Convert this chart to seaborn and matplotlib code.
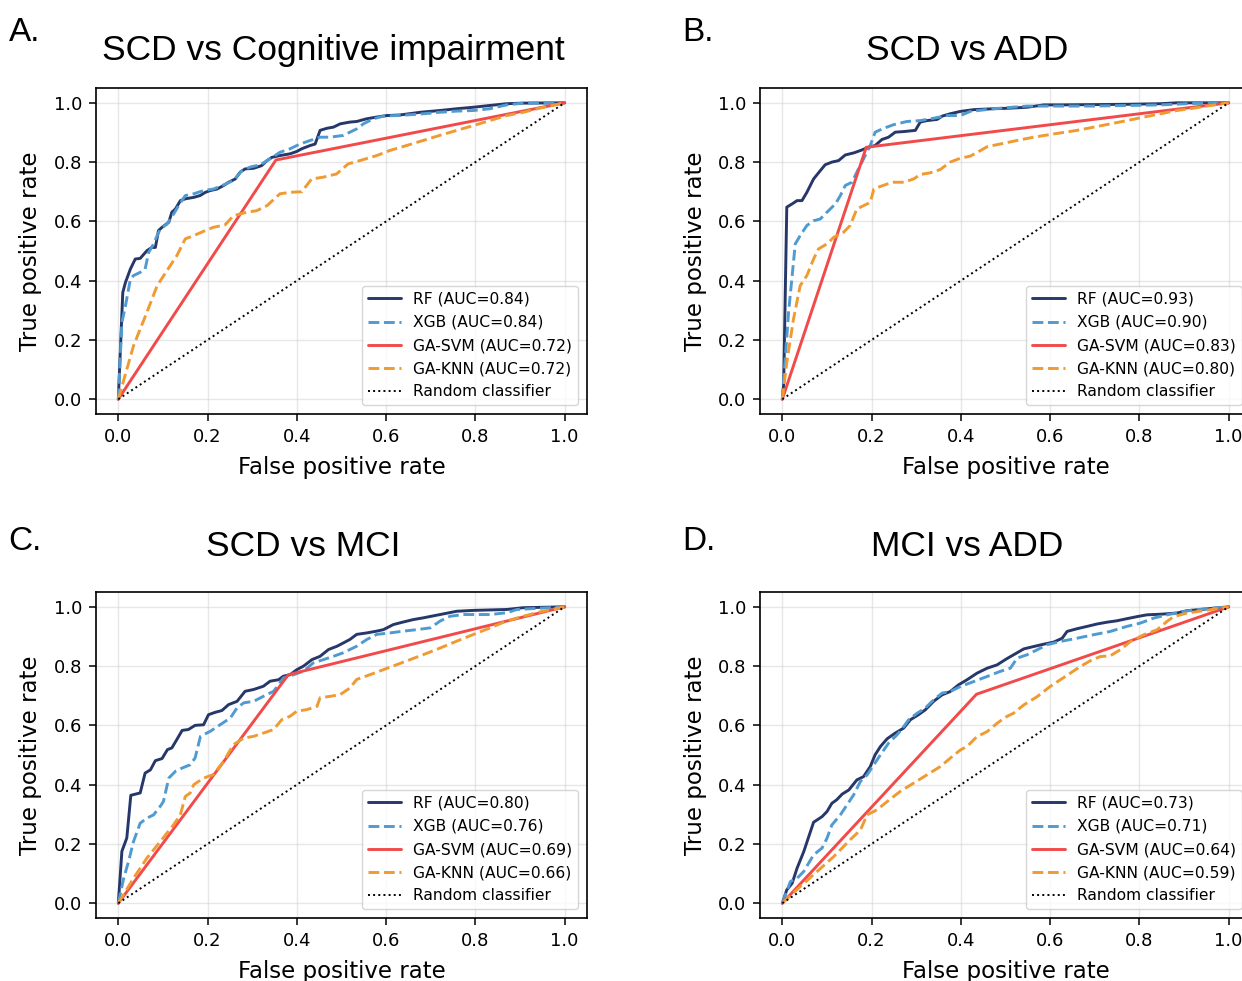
import matplotlib
matplotlib.use("Agg")
import matplotlib.pyplot as plt
import seaborn as sns
import pandas as pd

# ---------------- data ----------------
MODELS = ["RF", "XGB", "GA-SVM", "GA-KNN"]
PANEL_LABELS = ["A.", "B.", "C.", "D."]
TITLES = ["SCD vs Cognitive impairment", "SCD vs ADD", "SCD vs MCI", "MCI vs ADD"]
AUC_A = [0.84, 0.84, 0.72, 0.72]
AUC_B = [0.93, 0.90, 0.83, 0.80]
AUC_C = [0.80, 0.76, 0.69, 0.66]
AUC_D = [0.73, 0.71, 0.64, 0.59]
X_TICKS = [0.0, 0.2, 0.4, 0.6, 0.8, 1.0]
Y_TICKS = [0.0, 0.2, 0.4, 0.6, 0.8, 1.0]

# Panel A
A_RF_FPR = [0, 0.010, 0.016, 0.027, 0.038, 0.049, 0.064, 0.075, 0.083, 0.090, 0.098, 0.113, 0.120, 0.128, 0.139, 0.150, 0.169, 0.183, 0.195, 0.206, 0.221, 0.236, 0.247, 0.262, 0.273, 0.284, 0.303, 0.321, 0.333, 0.344, 0.362, 0.385, 0.400, 0.411, 0.430, 0.441, 0.452, 0.467, 0.482, 0.497, 0.519, 0.534, 0.556, 0.579, 0.601, 0.631, 0.676, 0.720, 0.758, 0.795, 0.832, 0.870, 0.907, 1.0]
A_RF_TPR = [0, 0.360, 0.394, 0.439, 0.473, 0.475, 0.501, 0.512, 0.512, 0.569, 0.580, 0.597, 0.631, 0.642, 0.670, 0.676, 0.681, 0.687, 0.698, 0.704, 0.709, 0.721, 0.732, 0.743, 0.766, 0.777, 0.779, 0.788, 0.805, 0.816, 0.822, 0.828, 0.836, 0.845, 0.856, 0.861, 0.907, 0.914, 0.918, 0.929, 0.935, 0.937, 0.946, 0.952, 0.957, 0.959, 0.968, 0.974, 0.980, 0.985, 0.991, 0.997, 0.999, 1.0]
A_XGB_FPR = [0, 0.008, 0.016, 0.027, 0.034, 0.049, 0.060, 0.068, 0.079, 0.087, 0.094, 0.109, 0.124, 0.135, 0.150, 0.169, 0.191, 0.213, 0.236, 0.258, 0.277, 0.295, 0.318, 0.340, 0.362, 0.385, 0.407, 0.430, 0.452, 0.474, 0.504, 0.534, 0.549, 0.571, 0.594, 0.646, 0.683, 0.720, 0.758, 0.795, 0.832, 0.870, 0.907, 1.0]
A_XGB_TPR = [0, 0.259, 0.315, 0.405, 0.417, 0.428, 0.439, 0.495, 0.524, 0.552, 0.574, 0.591, 0.625, 0.653, 0.687, 0.693, 0.704, 0.709, 0.723, 0.738, 0.771, 0.783, 0.791, 0.811, 0.833, 0.845, 0.861, 0.873, 0.884, 0.884, 0.890, 0.912, 0.929, 0.946, 0.955, 0.959, 0.963, 0.968, 0.972, 0.974, 0.980, 0.993, 0.999, 1.0]
A_SVM_FPR = [0, 0.353, 1.0]
A_SVM_TPR = [0, 0.807, 1.0]
A_KNN_FPR = [0, 0.034, 0.064, 0.087, 0.109, 0.131, 0.150, 0.169, 0.195, 0.213, 0.239, 0.258, 0.288, 0.310, 0.333, 0.362, 0.385, 0.411, 0.433, 0.459, 0.489, 0.515, 0.541, 0.579, 0.608, 0.646, 0.683, 0.720, 0.758, 0.795, 0.832, 0.870, 0.907, 0.944, 1.0]
A_KNN_TPR = [0, 0.180, 0.293, 0.383, 0.434, 0.484, 0.541, 0.552, 0.569, 0.580, 0.588, 0.619, 0.631, 0.636, 0.653, 0.693, 0.698, 0.700, 0.743, 0.749, 0.760, 0.794, 0.805, 0.822, 0.839, 0.856, 0.873, 0.890, 0.907, 0.923, 0.940, 0.957, 0.968, 0.982, 1.0]

# Panel B
B_RF_FPR = [0, 0.003, 0.010, 0.022, 0.033, 0.044, 0.055, 0.070, 0.085, 0.096, 0.111, 0.126, 0.141, 0.160, 0.175, 0.193, 0.208, 0.223, 0.238, 0.253, 0.272, 0.298, 0.309, 0.324, 0.347, 0.358, 0.376, 0.399, 0.429, 0.473, 0.511, 0.548, 0.586, 0.623, 0.698, 0.772, 0.847, 0.884, 1.0]
B_RF_TPR = [0, 0.050, 0.648, 0.659, 0.670, 0.670, 0.698, 0.743, 0.771, 0.791, 0.800, 0.805, 0.824, 0.831, 0.839, 0.850, 0.856, 0.876, 0.884, 0.901, 0.903, 0.907, 0.935, 0.940, 0.944, 0.955, 0.963, 0.971, 0.977, 0.980, 0.982, 0.985, 0.993, 0.993, 0.994, 0.995, 0.997, 1.0, 1.0]
B_XGB_FPR = [0, 0.014, 0.029, 0.040, 0.055, 0.070, 0.085, 0.100, 0.119, 0.130, 0.141, 0.156, 0.167, 0.182, 0.197, 0.208, 0.227, 0.249, 0.279, 0.309, 0.339, 0.369, 0.399, 0.421, 0.473, 0.548, 0.623, 0.698, 0.772, 0.847, 0.922, 1.0]
B_XGB_TPR = [0, 0.293, 0.524, 0.552, 0.586, 0.602, 0.608, 0.631, 0.659, 0.687, 0.721, 0.732, 0.766, 0.811, 0.856, 0.901, 0.914, 0.926, 0.937, 0.940, 0.948, 0.957, 0.957, 0.971, 0.980, 0.989, 0.989, 0.989, 0.991, 0.993, 0.998, 1.0]
B_SVM_FPR = [0, 0.188, 1.0]
B_SVM_TPR = [0, 0.850, 1.0]
B_KNN_FPR = [0, 0.010, 0.025, 0.040, 0.055, 0.070, 0.081, 0.100, 0.115, 0.137, 0.152, 0.167, 0.182, 0.197, 0.205, 0.220, 0.235, 0.249, 0.272, 0.294, 0.309, 0.332, 0.354, 0.376, 0.399, 0.421, 0.444, 0.459, 0.488, 0.526, 0.563, 0.608, 0.660, 0.698, 0.735, 0.772, 0.810, 0.847, 0.884, 0.922, 0.959, 1.0]
B_KNN_TPR = [0, 0.124, 0.270, 0.383, 0.417, 0.473, 0.507, 0.524, 0.546, 0.563, 0.586, 0.642, 0.653, 0.664, 0.709, 0.718, 0.726, 0.732, 0.732, 0.743, 0.758, 0.764, 0.775, 0.800, 0.813, 0.820, 0.839, 0.852, 0.861, 0.873, 0.884, 0.895, 0.907, 0.918, 0.929, 0.940, 0.952, 0.963, 0.974, 0.982, 0.991, 1.0]

# Panel C
C_RF_FPR = [0, 0.008, 0.019, 0.028, 0.049, 0.060, 0.072, 0.083, 0.098, 0.110, 0.120, 0.131, 0.143, 0.157, 0.172, 0.191, 0.202, 0.217, 0.232, 0.247, 0.266, 0.284, 0.303, 0.325, 0.340, 0.359, 0.370, 0.385, 0.400, 0.415, 0.434, 0.452, 0.471, 0.490, 0.504, 0.519, 0.534, 0.557, 0.579, 0.594, 0.616, 0.639, 0.661, 0.684, 0.721, 0.758, 0.796, 0.870, 0.907, 1.0]
C_RF_TPR = [0, 0.175, 0.220, 0.364, 0.372, 0.439, 0.450, 0.481, 0.488, 0.518, 0.524, 0.552, 0.583, 0.586, 0.600, 0.602, 0.636, 0.644, 0.650, 0.670, 0.681, 0.715, 0.721, 0.732, 0.749, 0.754, 0.766, 0.771, 0.788, 0.800, 0.822, 0.833, 0.856, 0.867, 0.878, 0.890, 0.907, 0.912, 0.918, 0.923, 0.940, 0.949, 0.957, 0.963, 0.974, 0.985, 0.988, 0.991, 0.997, 1.0]
C_XGB_FPR = [0, 0.012, 0.023, 0.034, 0.049, 0.064, 0.079, 0.094, 0.101, 0.113, 0.128, 0.143, 0.161, 0.172, 0.184, 0.206, 0.228, 0.251, 0.266, 0.281, 0.303, 0.325, 0.348, 0.370, 0.393, 0.415, 0.437, 0.460, 0.482, 0.504, 0.534, 0.557, 0.579, 0.609, 0.639, 0.669, 0.699, 0.721, 0.743, 0.773, 0.833, 0.870, 0.893, 1.0]
C_XGB_TPR = [0, 0.084, 0.141, 0.208, 0.270, 0.287, 0.298, 0.327, 0.343, 0.422, 0.445, 0.456, 0.467, 0.490, 0.563, 0.580, 0.602, 0.625, 0.659, 0.676, 0.681, 0.698, 0.715, 0.760, 0.771, 0.783, 0.811, 0.822, 0.833, 0.845, 0.867, 0.890, 0.907, 0.912, 0.918, 0.923, 0.929, 0.952, 0.968, 0.974, 0.974, 0.980, 0.991, 1.0]
C_SVM_FPR = [0, 0.381, 1.0]
C_SVM_TPR = [0, 0.771, 1.0]
C_KNN_FPR = [0, 0.034, 0.064, 0.094, 0.124, 0.139, 0.150, 0.161, 0.169, 0.191, 0.213, 0.236, 0.258, 0.281, 0.303, 0.325, 0.348, 0.366, 0.385, 0.400, 0.422, 0.445, 0.452, 0.475, 0.497, 0.519, 0.534, 0.564, 0.594, 0.624, 0.654, 0.684, 0.721, 0.758, 0.796, 0.833, 0.870, 0.907, 0.945, 1.0]
C_KNN_TPR = [0, 0.084, 0.152, 0.208, 0.265, 0.298, 0.360, 0.372, 0.400, 0.422, 0.434, 0.479, 0.535, 0.557, 0.563, 0.574, 0.586, 0.619, 0.631, 0.648, 0.653, 0.664, 0.693, 0.698, 0.704, 0.726, 0.755, 0.771, 0.788, 0.805, 0.822, 0.839, 0.861, 0.884, 0.907, 0.929, 0.952, 0.968, 0.983, 1.0]

# Panel D
D_RF_FPR = [0, 0.010, 0.022, 0.033, 0.048, 0.070, 0.089, 0.100, 0.111, 0.122, 0.134, 0.149, 0.167, 0.182, 0.197, 0.208, 0.220, 0.235, 0.253, 0.272, 0.287, 0.305, 0.320, 0.339, 0.358, 0.376, 0.395, 0.414, 0.436, 0.459, 0.481, 0.503, 0.518, 0.541, 0.563, 0.586, 0.608, 0.627, 0.638, 0.660, 0.683, 0.705, 0.727, 0.750, 0.772, 0.795, 0.817, 0.847, 0.884, 0.907, 0.937, 1.0]
D_RF_TPR = [0, 0.045, 0.067, 0.118, 0.174, 0.273, 0.292, 0.309, 0.337, 0.349, 0.368, 0.382, 0.416, 0.427, 0.461, 0.501, 0.529, 0.555, 0.574, 0.591, 0.619, 0.636, 0.652, 0.681, 0.703, 0.714, 0.737, 0.754, 0.776, 0.793, 0.804, 0.825, 0.838, 0.858, 0.866, 0.874, 0.881, 0.894, 0.917, 0.926, 0.934, 0.942, 0.948, 0.953, 0.960, 0.967, 0.973, 0.975, 0.979, 0.987, 0.991, 1.0]
D_XGB_FPR = [0, 0.018, 0.033, 0.048, 0.070, 0.089, 0.100, 0.111, 0.130, 0.145, 0.160, 0.175, 0.190, 0.205, 0.220, 0.238, 0.257, 0.272, 0.283, 0.302, 0.320, 0.339, 0.358, 0.376, 0.399, 0.429, 0.459, 0.488, 0.511, 0.526, 0.548, 0.571, 0.593, 0.623, 0.660, 0.698, 0.735, 0.772, 0.802, 0.832, 0.862, 0.892, 0.922, 1.0]
D_XGB_TPR = [0, 0.073, 0.084, 0.107, 0.163, 0.186, 0.219, 0.264, 0.298, 0.332, 0.366, 0.411, 0.433, 0.467, 0.501, 0.540, 0.568, 0.596, 0.619, 0.641, 0.658, 0.686, 0.709, 0.714, 0.731, 0.748, 0.765, 0.782, 0.793, 0.827, 0.838, 0.855, 0.872, 0.883, 0.894, 0.906, 0.917, 0.934, 0.945, 0.962, 0.973, 0.982, 0.990, 1.0]
D_SVM_FPR = [0, 0.435, 1.0]
D_SVM_TPR = [0, 0.705, 1.0]
D_KNN_FPR = [0, 0.040, 0.078, 0.115, 0.152, 0.175, 0.190, 0.212, 0.235, 0.264, 0.294, 0.324, 0.354, 0.376, 0.399, 0.414, 0.436, 0.459, 0.481, 0.503, 0.518, 0.541, 0.571, 0.600, 0.623, 0.645, 0.668, 0.690, 0.712, 0.735, 0.757, 0.780, 0.810, 0.839, 0.862, 0.877, 0.907, 0.944, 1.0]
D_KNN_TPR = [0, 0.056, 0.107, 0.157, 0.214, 0.247, 0.298, 0.315, 0.343, 0.377, 0.405, 0.433, 0.461, 0.489, 0.517, 0.529, 0.562, 0.579, 0.607, 0.630, 0.641, 0.669, 0.697, 0.731, 0.754, 0.776, 0.799, 0.818, 0.832, 0.835, 0.855, 0.883, 0.906, 0.922, 0.951, 0.967, 0.979, 0.987, 1.0]

PANELS = [
    (AUC_A, [(A_RF_FPR, A_RF_TPR), (A_XGB_FPR, A_XGB_TPR), (A_SVM_FPR, A_SVM_TPR), (A_KNN_FPR, A_KNN_TPR)]),
    (AUC_B, [(B_RF_FPR, B_RF_TPR), (B_XGB_FPR, B_XGB_TPR), (B_SVM_FPR, B_SVM_TPR), (B_KNN_FPR, B_KNN_TPR)]),
    (AUC_C, [(C_RF_FPR, C_RF_TPR), (C_XGB_FPR, C_XGB_TPR), (C_SVM_FPR, C_SVM_TPR), (C_KNN_FPR, C_KNN_TPR)]),
    (AUC_D, [(D_RF_FPR, D_RF_TPR), (D_XGB_FPR, D_XGB_TPR), (D_SVM_FPR, D_SVM_TPR), (D_KNN_FPR, D_KNN_TPR)]),
]

# ---------------- style ----------------
sns.set_style("ticks")
plt.rcParams["font.family"] = ["DejaVu Sans"]
plt.rcParams["text.color"] = "black"
plt.rcParams["axes.labelcolor"] = "black"
plt.rcParams["xtick.color"] = "black"
plt.rcParams["ytick.color"] = "black"

COLORS = ["#263769", "#4f9bd1", "#f24a4a", "#f09a32"]
STYLES = ["-", "--", "-", "--"]
TITLE_FONT = ["Liberation Sans", "Arial", "DejaVu Sans"]

W, H = 1242, 981
fig = plt.figure(figsize=(W / 100, H / 100), dpi=100)

# axes boxes in pixels: left, top, width, height
AX_PX = [(96, 88), (760, 88), (96, 592), (760, 592)]
AX_W, AX_H = 491, 326
LABEL_PX = [(9, 41), (682, 41), (8, 550), (682, 550)]
TITLE_PX = [(333, 60), (967, 60), (303, 556), (967, 556)]

for i, (aucs, curves) in enumerate(PANELS):
    lx, ty = AX_PX[i]
    ax = fig.add_axes([lx / W, 1 - (ty + AX_H) / H, AX_W / W, AX_H / H])
    for j, (fpr, tpr) in enumerate(curves):
        df = pd.DataFrame({"fpr": fpr, "tpr": tpr})
        sns.lineplot(data=df, x="fpr", y="tpr", ax=ax, sort=False, estimator=None,
                     color=COLORS[j], linestyle=STYLES[j], linewidth=2.1,
                     label=f"{MODELS[j]} (AUC={aucs[j]:.2f})")
    rnd = pd.DataFrame({"fpr": [0, 1], "tpr": [0, 1]})
    sns.lineplot(data=rnd, x="fpr", y="tpr", ax=ax, sort=False, estimator=None,
                 color="black", linestyle=":", linewidth=1.4, label="Random classifier")
    ax.set_xlim(-0.05, 1.05)
    ax.set_ylim(-0.05, 1.05)
    ax.set_xticks(X_TICKS)
    ax.set_yticks(Y_TICKS)
    ax.set_xticklabels([f"{t:.1f}" for t in X_TICKS])
    ax.set_yticklabels([f"{t:.1f}" for t in Y_TICKS])
    ax.tick_params(labelsize=13, length=5, width=1.1, pad=5, colors="black")
    ax.grid(True, color="#d0d0d0", alpha=0.5, linewidth=1.0)
    for s in ax.spines.values():
        s.set_linewidth(1.2)
        s.set_color("black")
    ax.set_xlabel("False positive rate", fontsize=16.5, labelpad=7, color="black")
    ax.set_ylabel("True positive rate", fontsize=16.5, labelpad=8, color="black")
    leg = ax.legend(loc="lower right", fontsize=11.2, frameon=True, handlelength=2.1,
                    borderaxespad=0.55, labelspacing=0.52)
    for t in leg.get_texts():
        t.set_color("black")
    px, py = LABEL_PX[i]
    fig.text(px / W, 1 - py / H, PANEL_LABELS[i], fontsize=24, family=TITLE_FONT,
             ha="left", va="baseline", color="black")
    tx, tyy = TITLE_PX[i]
    fig.text(tx / W, 1 - tyy / H, TITLES[i], fontsize=25.5, family=TITLE_FONT,
             ha="center", va="baseline", color="black")

fig.savefig("out.png", dpi=100)
